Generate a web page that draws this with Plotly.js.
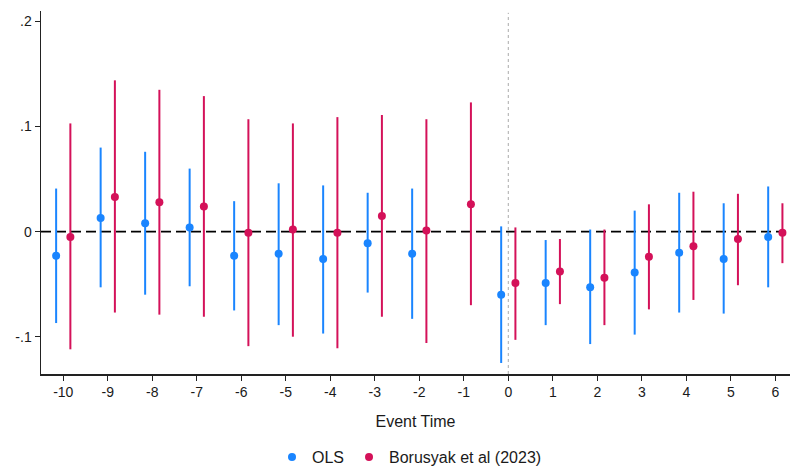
<!DOCTYPE html>
<html>
<head>
<meta charset="utf-8">
<script src="https://cdn.plot.ly/plotly-3.0.1.min.js"></script>
<style>html,body{margin:0;padding:0;background:#fff;}#chart{width:791px;height:468px;}</style>
</head>
<body>
<div id="chart"></div>
<script>
// Event times
const olsTime = [-10,-9,-8,-7,-6,-5,-4,-3,-2,0,1,2,3,4,5,6];
const borTime = [-10,-9,-8,-7,-6,-5,-4,-3,-2,-1,0,1,2,3,4,5,6];

// OLS estimates and 95% CI
const olsEst = [-0.023,0.013,0.008,0.004,-0.023,-0.021,-0.026,-0.011,-0.021,-0.060,-0.049,-0.053,-0.039,-0.020,-0.026,-0.005];
const olsLo  = [-0.087,-0.053,-0.060,-0.052,-0.075,-0.089,-0.097,-0.058,-0.083,-0.125,-0.089,-0.107,-0.098,-0.077,-0.078,-0.053];
const olsHi  = [0.041,0.080,0.076,0.060,0.029,0.046,0.044,0.037,0.041,0.005,-0.008,0.002,0.020,0.037,0.027,0.043];

// Borusyak et al (2023) estimates and 95% CI
const borEst = [-0.005,0.033,0.028,0.024,-0.001,0.002,-0.001,0.015,0.001,0.026,-0.049,-0.038,-0.044,-0.024,-0.014,-0.007,-0.001];
const borLo  = [-0.112,-0.077,-0.079,-0.081,-0.109,-0.100,-0.111,-0.081,-0.106,-0.070,-0.103,-0.069,-0.089,-0.074,-0.065,-0.051,-0.030];
const borHi  = [0.103,0.144,0.135,0.129,0.107,0.103,0.109,0.111,0.107,0.123,0.004,-0.007,0.002,0.026,0.038,0.036,0.027];

const xTickVals = [-10,-9,-8,-7,-6,-5,-4,-3,-2,-1,0,1,2,3,4,5,6];
const xTickText = ["-10","-9","-8","-7","-6","-5","-4","-3","-2","-1","0","1","2","3","4","5","6"];
const yTickVals = [-0.1,0,0.1,0.2];
const yTickText = ["-.1","0",".1",".2"];
const yGridVals = [-0.1,0.1,0.2];

const shift = 0.16;
const blue = "#1A85FF", red = "#D41159";
const yRange = [-0.1355, 0.210];

const traces = [
  {
    type: "scatter", mode: "markers", name: "OLS",
    x: olsTime.map(t => t - shift), y: olsEst,
    marker: {color: blue, size: 8},
    error_y: {type: "data", symmetric: false,
      array: olsHi.map((h,i) => h - olsEst[i]),
      arrayminus: olsEst.map((e,i) => e - olsLo[i]),
      width: 0, thickness: 2, color: blue}
  },
  {
    type: "scatter", mode: "markers", name: "Borusyak et al (2023)",
    x: borTime.map(t => t + shift), y: borEst,
    marker: {color: red, size: 8},
    error_y: {type: "data", symmetric: false,
      array: borHi.map((h,i) => h - borEst[i]),
      arrayminus: borEst.map((e,i) => e - borLo[i]),
      width: 0, thickness: 2, color: red}
  }
];

const layout = {
  width: 791, height: 468,
  margin: {l: 41, r: 1, t: 11, b: 94, autoexpand: false},
  paper_bgcolor: "#fff", plot_bgcolor: "#fff",
  font: {family: "Liberation Sans, Arial, Helvetica, sans-serif", size: 14, color: "#1a1a1a"},
  showlegend: true,
  legend: {orientation: "h", x: 0.492, xanchor: "center", y: -0.229, yanchor: "middle",
    font: {size: 16, color: "#1a1a1a"}},
  xaxis: {
    range: [-10.5, 6.33], tickvals: xTickVals, ticktext: xTickText, ticks: "outside", ticklen: 5, tickwidth: 1,
    tickcolor: "#222", showline: true, linecolor: "#222", linewidth: 1.5,
    showgrid: false, zeroline: false, fixedrange: true, automargin: false,
    title: {text: "Event Time", font: {size: 16}, standoff: 16}
  },
  yaxis: {
    range: yRange, tickvals: yTickVals, ticktext: yTickText,
    ticks: "outside", ticklen: 5, tickwidth: 1, tickcolor: "#222",
    showline: true, linecolor: "#222", linewidth: 1.5, automargin: false,
    showgrid: false, zeroline: false, fixedrange: true
  },
  yaxis2: {
    overlaying: "y", side: "left", range: yRange, tickvals: yGridVals,
    showticklabels: false, ticks: "", showline: false, automargin: false,
    showgrid: true, gridcolor: "#ebebeb", gridwidth: 1, griddash: "dash",
    zeroline: false, fixedrange: true
  },
  shapes: [
    {type: "line", xref: "paper", x0: 0, x1: 1, yref: "y", y0: 0, y1: 0,
      line: {color: "#000", width: 1.8, dash: "10px,5px"}, layer: "between"},
    {type: "line", xref: "x", x0: 0, x1: 0, yref: "paper", y0: 0, y1: 0.995,
      line: {color: "#aaa", width: 1, dash: "dot"}, layer: "between"}
  ]
};

Plotly.newPlot("chart", traces, layout, {displayModeBar: false, staticPlot: true});
</script>
</body>
</html>
